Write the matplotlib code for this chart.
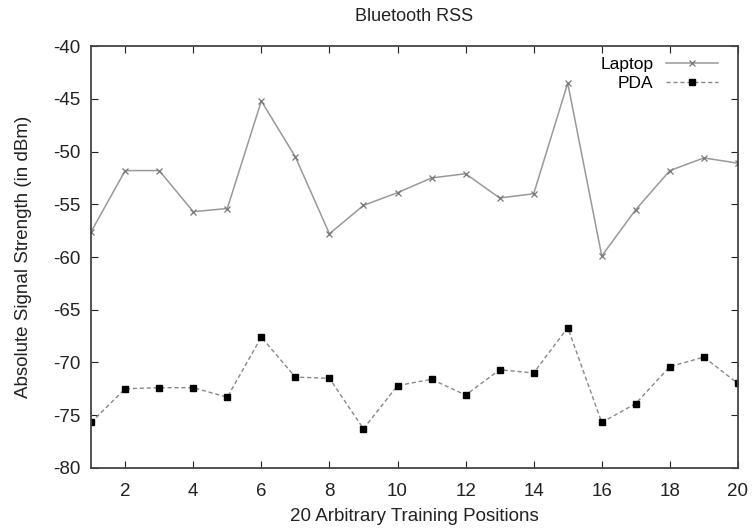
import numpy as np
import matplotlib
matplotlib.use('Agg')
import matplotlib.pyplot as plt

plt.rcParams['font.family'] = ['Liberation Sans', 'DejaVu Sans']
plt.rcParams['axes.unicode_minus'] = False

positions = np.arange(1, 21)
laptop = [-57.6, -51.8, -51.8, -55.7, -55.4, -45.2, -50.5, -57.8, -55.1, -53.9,
          -52.5, -52.1, -54.4, -54.0, -43.5, -59.9, -55.5, -51.8, -50.6, -51.1]
pda = [-75.7, -72.5, -72.4, -72.4, -73.3, -67.6, -71.4, -71.5, -76.3, -72.2,
       -71.6, -73.1, -70.7, -71.0, -66.7, -75.7, -73.9, -70.4, -69.5, -72.0]

fig = plt.figure(figsize=(7.53, 5.31), dpi=100)
ax = fig.add_axes([0.121, 0.119, 0.859, 0.794])

ax.plot(positions, laptop, color='#999999', lw=1.1, marker='x', ms=5,
        mec='#777777', mew=0.9, label='Laptop')
ax.plot(positions, pda, color='#888888', lw=1.0, ls=(0, (3, 2)), marker='s', ms=4.5,
        mfc='black', mec='black', label='PDA')

ax.set_xlim(1, 20)
ax.set_ylim(-80, -40)
ax.set_xticks(range(2, 21, 2))
ax.set_yticks(range(-80, -39, 5))
ax.tick_params(direction='in', top=True, right=True, length=5, labelsize=13.5,
               colors='#222222')
ax.tick_params(axis='y', pad=8)
ax.tick_params(axis='x', pad=11)
for s in ax.spines.values():
    s.set_color('#444444')
    s.set_linewidth(1.3)

ax.set_title('Bluetooth RSS', fontsize=13, pad=18, color='#222222')
ax.set_xlabel('20 Arbitrary Training Positions', fontsize=13.5, labelpad=6, color='#222222')
ax.set_ylabel('Absolute Signal Strength (in dBm)', fontsize=13.5, labelpad=15, color='#222222')

ax.legend(loc='upper right', bbox_to_anchor=(0.969, 0.975), frameon=False,
          markerfirst=False, fontsize=12.5, handlelength=3.0, labelspacing=0.25,
          borderaxespad=0.0, handletextpad=0.7, borderpad=0.0)

fig.savefig('out.png', dpi=100)
